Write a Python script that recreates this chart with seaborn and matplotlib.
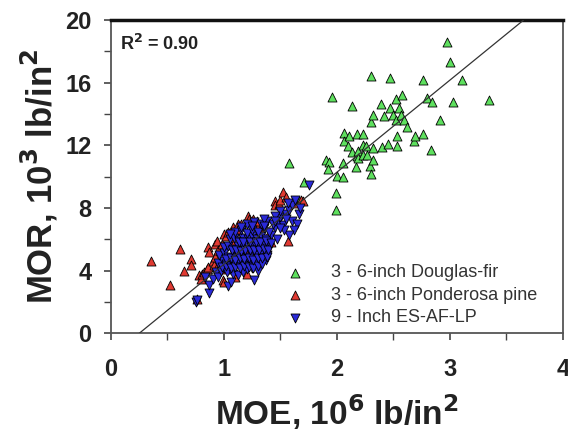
import numpy as np
import pandas as pd
import matplotlib
matplotlib.use("Agg")
import matplotlib.pyplot as plt
import seaborn as sns

# --- data ---
df_moe = [1.58, 1.66, 1.71, 1.90, 1.93, 1.92, 1.96, 1.99, 1.99, 2.00, 2.05, 2.05, 2.06, 2.06,
          2.10, 2.11, 2.13, 2.13, 2.17, 2.18, 2.18, 2.19, 2.19, 2.23, 2.23, 2.23, 2.26, 2.27,
          2.29, 2.30, 2.30, 2.30, 2.32, 2.32, 2.32, 2.39, 2.40, 2.42, 2.45, 2.47, 2.47, 2.50,
          2.52, 2.52, 2.53, 2.53, 2.55, 2.57, 2.58, 2.59, 2.62, 2.68, 2.69, 2.76, 2.76, 2.80,
          2.83, 2.84, 2.91, 2.97, 3.00, 3.03, 3.11, 3.35]
df_mor = [10.85, 8.45, 9.65, 11.05, 10.95, 10.5, 15.1, 8.95, 7.9, 10.05, 10.9, 10.0, 12.8, 12.3,
          11.95, 12.6, 14.5, 11.55, 10.65, 12.7, 11.3, 11.65, 11.2, 12.7, 12.05, 11.4, 11.95, 11.4,
          10.7, 16.45, 13.5, 10.15, 13.95, 11.85, 11.1, 14.65, 11.9, 13.85, 12.1, 16.3, 14.4, 13.95,
          14.95, 13.65, 12.6, 11.95, 14.4, 13.95, 15.2, 13.65, 13.2, 12.3, 12.6, 16.2, 12.75, 15.0,
          11.7, 14.75, 13.65, 18.6, 17.3, 14.75, 16.2, 14.9]

pp_moe = [0.35, 0.52, 0.61, 0.65, 0.71, 0.71, 0.76, 0.78, 0.80, 0.81, 0.82, 0.85, 0.86, 0.86,
          0.87, 0.90, 0.91, 0.92, 0.92, 0.94, 0.94, 0.95, 0.98, 0.99, 1.00, 1.00, 1.02, 1.02,
          1.04, 1.07, 1.08, 1.10, 1.12, 1.13, 1.15, 1.20, 1.20, 1.21, 1.22, 1.26, 1.28, 1.28,
          1.29, 1.32, 1.32, 1.35, 1.39, 1.40, 1.42, 1.45, 1.45, 1.49, 1.50, 1.52, 1.55, 1.57,
          1.63, 1.68, 1.70]
pp_mor = [4.65, 3.07, 5.4, 4.0, 4.75, 4.35, 2.2, 3.7, 3.5, 3.8, 3.9, 4.1, 5.5, 4.25,
          5.2, 4.6, 4.35, 5.7, 4.9, 5.9, 4.25, 5.3, 5.7, 3.4, 6.35, 3.3, 4.1, 6.2,
          6.45, 5.9, 6.8, 3.6, 7.0, 6.55, 7.0, 5.05, 3.8, 7.5, 7.3, 7.3, 6.35, 6.9,
          7.2, 5.7, 6.6, 5.4, 6.25, 6.0, 5.8, 8.45, 8.2, 8.25, 8.5, 9.0, 8.7, 5.9,
          8.3, 8.5, 8.45]

lp_moe = [0.75, 0.76, 0.87, 0.87, 0.83, 0.90, 0.93, 0.95, 1.04, 1.06, 1.27, 1.37,
          0.97, 1.00, 1.03, 1.08, 1.12, 1.17, 1.20, 1.25, 1.30,
          0.95, 0.99, 1.02, 1.06, 1.10, 1.14, 1.18, 1.22, 1.27, 1.32,
          0.96, 1.00, 1.04, 1.08, 1.12, 1.16, 1.20, 1.24, 1.28, 1.33, 1.38,
          1.00, 1.04, 1.08, 1.12, 1.16, 1.20, 1.24, 1.28, 1.32, 1.36, 1.40,
          1.05, 1.09, 1.13, 1.17, 1.21, 1.25, 1.29, 1.33, 1.37, 1.42,
          1.10, 1.15, 1.20, 1.25, 1.30, 1.35, 1.40, 1.45,
          1.20, 1.27, 1.33, 1.38, 1.43, 1.48, 1.52,
          1.50, 1.55, 1.58, 1.60, 1.63, 1.57, 1.50, 1.60, 1.65, 1.66, 1.62, 1.58,
          1.67, 1.75, 1.53, 1.45, 1.35, 1.50,
          0.98, 1.02, 1.06, 1.10, 1.14, 1.18, 1.22, 1.26, 1.30, 1.34,
          1.02, 1.06, 1.10, 1.14, 1.18, 1.22, 1.26, 1.30, 1.34, 1.38,
          1.07, 1.11, 1.15, 1.19, 1.23, 1.27, 1.31, 1.35, 1.39,
          1.13, 1.17, 1.23, 1.28, 1.32, 1.37, 1.42, 1.47,
          1.05, 1.15, 1.25, 1.35, 1.45, 1.55]
lp_mor = [2.0, 2.15, 2.6, 3.1, 3.6, 3.5, 3.9, 3.6, 3.0, 3.3, 3.4, 4.7,
          4.0, 4.2, 3.9, 3.8, 3.7, 3.9, 4.1, 4.2, 4.0,
          4.5, 4.6, 4.4, 4.6, 4.4, 4.5, 4.6, 4.4, 4.5, 4.7,
          5.0, 5.1, 4.9, 5.2, 5.0, 5.1, 4.9, 5.1, 5.0, 5.2, 5.0,
          5.5, 5.6, 5.4, 5.6, 5.5, 5.7, 5.5, 5.6, 5.5, 5.7, 5.5,
          6.0, 6.1, 5.9, 6.1, 6.0, 6.2, 6.0, 6.2, 6.0, 6.3,
          6.5, 6.6, 6.4, 6.6, 6.5, 6.7, 6.5, 6.8,
          7.0, 7.1, 7.0, 7.2, 7.0, 7.1, 6.9,
          7.4, 7.6, 7.9, 8.2, 8.5, 8.3, 7.8, 7.2, 7.0, 7.6, 6.6, 6.25,
          8.0, 9.5, 6.6, 7.5, 7.3, 6.75,
          4.25, 4.3, 4.15, 4.25, 4.2, 4.3, 4.25, 4.2, 4.3, 4.4,
          4.75, 4.8, 4.7, 4.8, 4.75, 4.8, 4.7, 4.8, 4.8, 4.9,
          5.3, 5.3, 5.25, 5.35, 5.3, 5.35, 5.3, 5.4, 5.3,
          5.8, 5.8, 5.8, 5.85, 5.8, 5.9, 5.75, 6.05,
          6.35, 6.8, 6.85, 6.85, 7.2, 7.3]

labels = ["3 - 6-inch Douglas-fir", "3 - 6-inch Ponderosa pine", "9 - Inch ES-AF-LP"]
fit_slope = 5.88
fit_intercept = -1.47
fit_range = [0.25, 3.65]
r2_text = "R$^\\mathbf{2}$ = 0.90"

sns.set_style("ticks")
plt.rcParams['font.family'] = ['Liberation Sans', 'DejaVu Sans']

fig = plt.figure(figsize=(5.68, 4.38), dpi=100)
ax = fig.add_axes([0.1954, 0.239, 0.7956, 0.715])

common = dict(ax=ax, s=42, edgecolor="black", linewidth=0.6, zorder=3)
sns.scatterplot(x=df_moe, y=df_mor, marker="^", color="#5ee05e", label=labels[0], **common)
sns.scatterplot(x=pp_moe, y=pp_mor, marker="^", color="#e03a32", label=labels[1], **common)
sns.scatterplot(x=lp_moe, y=lp_mor, marker="v", color="#2a2ad8", label=labels[2], **common)

fx = np.array(fit_range)
ax.plot(fx, fit_slope * fx + fit_intercept, color="#333333", lw=0.9, zorder=4)

ax.set_xlim(0, 4)
ax.set_ylim(0, 20)
ax.set_xticks([0, 1, 2, 3, 4])
ax.set_xticks([0.5, 1.5, 2.5, 3.5], minor=True)
ax.set_yticks([0, 4, 8, 12, 16, 20])
ax.set_yticks([2, 6, 10, 14, 18], minor=True)
ax.tick_params(axis="both", which="major", direction="out", length=5, width=1.2,
               labelsize=17, color="#444444")
ax.tick_params(axis="x", which="major", pad=13)
ax.tick_params(axis="y", which="major", pad=9)
ax.tick_params(axis="both", which="minor", direction="out", length=5, width=1.0, color="#444444")
for lab in ax.get_xticklabels() + ax.get_yticklabels():
    lab.set_fontweight("bold")
    lab.set_color("#222222")

for side in ["left", "bottom", "right"]:
    ax.spines[side].set_color("#555555")
    ax.spines[side].set_linewidth(1.3)
ax.spines["top"].set_color("#111111")
ax.spines["top"].set_linewidth(2.5)

ax.set_xlabel("MOE, 10$^\\mathbf{6}$ lb/in$^\\mathbf{2}$", fontsize=24, fontweight="bold",
              color="#222222", labelpad=8)
ax.set_ylabel("MOR, 10$^\\mathbf{3}$ lb/in$^\\mathbf{2}$", fontsize=25, fontweight="bold",
              color="#222222", labelpad=4)

ax.text(0.02, 0.955, r2_text, transform=ax.transAxes, fontsize=13, fontweight="bold",
        va="top", ha="left", color="#222222")

leg = ax.legend(loc="lower right", bbox_to_anchor=(0.967, -0.012), frameon=False, fontsize=13,
                handletextpad=1.0, labelspacing=0.3, borderaxespad=0.2)
for t in leg.get_texts():
    t.set_color("#333333")

fig.savefig("out.png", dpi=100)
